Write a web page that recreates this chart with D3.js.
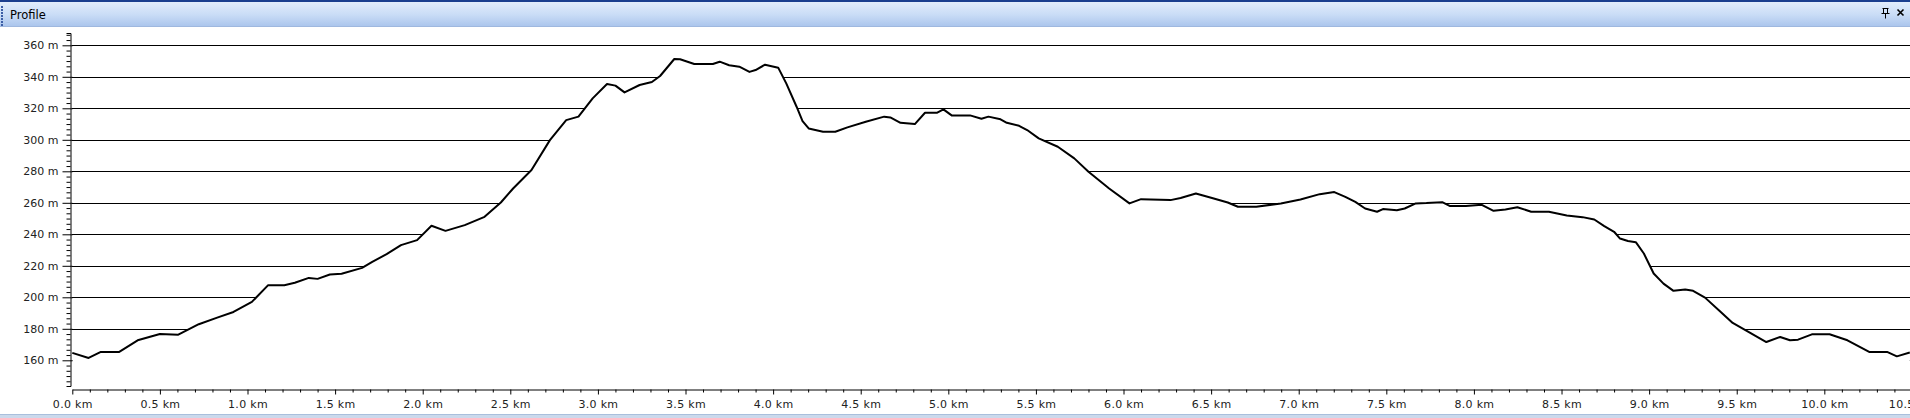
<!DOCTYPE html>
<html>
<head>
<meta charset="utf-8">
<script src="https://cdn.jsdelivr.net/npm/d3@7"></script>
<style>
  html, body { margin: 0; padding: 0; background: #fff; overflow: hidden; }
  svg { display: block; }
</style>
</head>
<body>
<script>
// ---- data ----
const distanceKm = [0, 0.093, 0.163, 0.268, 0.373, 0.50, 0.605, 0.722, 0.827, 0.92, 1.025, 1.118, 1.21, 1.27, 1.35, 1.40, 1.47, 1.537, 1.654, 1.712, 1.794, 1.876, 1.968, 2.05, 2.13, 2.24, 2.353, 2.446, 2.516, 2.621, 2.726, 2.819, 2.889, 2.97, 3.052, 3.10, 3.152, 3.238, 3.308, 3.355, 3.436, 3.469, 3.55, 3.656, 3.695, 3.749, 3.807, 3.865, 3.90, 3.954, 4.029, 4.075, 4.134, 4.168, 4.203, 4.285, 4.355, 4.424, 4.529, 4.634, 4.669, 4.727, 4.809, 4.867, 4.937, 4.972, 5.019, 5.124, 5.189, 5.229, 5.298, 5.334, 5.404, 5.45, 5.516, 5.625, 5.719, 5.80, 5.918, 6.034, 6.10, 6.268, 6.326, 6.413, 6.50, 6.595, 6.653, 6.758, 6.898, 7.01, 7.12, 7.203, 7.266, 7.323, 7.379, 7.447, 7.481, 7.56, 7.605, 7.668, 7.729, 7.819, 7.864, 7.954, 8.045, 8.112, 8.18, 8.248, 8.327, 8.428, 8.53, 8.62, 8.687, 8.744, 8.80, 8.834, 8.879, 8.924, 8.97, 9.026, 9.082, 9.139, 9.206, 9.251, 9.319, 9.398, 9.477, 9.567, 9.669, 9.748, 9.804, 9.85, 9.929, 10.03, 10.132, 10.256, 10.358, 10.414, 10.488];
const elevationM = [164.7, 161.5, 165.3, 165.3, 172.7, 176.7, 176.3, 182.9, 187.1, 190.7, 197.1, 207.7, 207.7, 209.2, 212.3, 211.7, 214.5, 214.9, 218.7, 222.5, 227.4, 233.1, 236.3, 245.4, 242.2, 245.8, 251.1, 260.2, 269.1, 280.8, 299.8, 312.5, 314.7, 326.3, 335.4, 334.4, 330.1, 334.8, 336.7, 340.5, 351.3, 351.1, 348.1, 348.1, 349.6, 347.3, 346.4, 343.1, 344.3, 347.7, 345.8, 335.8, 321.0, 311.9, 307.2, 305.1, 305.1, 307.9, 311.5, 314.7, 314.2, 310.8, 310.0, 317.2, 317.2, 319.3, 315.5, 315.5, 313.4, 314.7, 313.0, 310.8, 308.9, 306.2, 300.9, 295.6, 288.2, 279.7, 269.1, 259.6, 262.3, 261.7, 263.0, 265.9, 263.2, 260.2, 257.5, 257.5, 259.6, 262.1, 265.5, 266.8, 263.8, 260.6, 256.4, 254.3, 256.0, 255.3, 256.4, 259.6, 259.8, 260.4, 257.9, 257.9, 258.7, 254.9, 255.8, 257.2, 254.3, 254.3, 252.0, 250.9, 249.4, 245.2, 241.6, 237.3, 235.7, 235.0, 227.8, 215.1, 208.7, 204.1, 204.9, 204.1, 199.8, 191.8, 183.7, 178.0, 171.6, 174.8, 172.7, 173.1, 176.5, 176.5, 172.7, 165.3, 165.3, 162.5, 164.9];
const yTickValues = [160, 180, 200, 220, 240, 260, 280, 300, 320, 340, 360];
const xTickValues = [0, 0.5, 1, 1.5, 2, 2.5, 3, 3.5, 4, 4.5, 5, 5.5, 6, 6.5, 7, 7.5, 8, 8.5, 9, 9.5, 10, 10.5];
const titleText = "Profile";

// ---- layout ----
const W = 1910, H = 418;
const FONT = "DejaVu Sans, Verdana, sans-serif";
const svg = d3.select("body").append("svg").attr("width", W).attr("height", H);

// title bar
const defs = svg.append("defs");
const grad = defs.append("linearGradient").attr("id", "tb").attr("x1", 0).attr("y1", 0).attr("x2", 0).attr("y2", 1);
grad.append("stop").attr("offset", "0%").attr("stop-color", "#e6f0fd");
grad.append("stop").attr("offset", "55%").attr("stop-color", "#c9dcf6");
grad.append("stop").attr("offset", "100%").attr("stop-color", "#a9c4ec");
svg.append("rect").attr("x", 0).attr("y", 0).attr("width", W).attr("height", 27).attr("fill", "url(#tb)");
svg.append("rect").attr("x", 0).attr("y", 0).attr("width", W).attr("height", 2).attr("fill", "#1b3f8f");
svg.append("rect").attr("x", 0).attr("y", 26).attr("width", W).attr("height", 1).attr("fill", "#9fb8df");
// grip dots
d3.range(6, 26, 3).forEach(yy => {
  svg.append("rect").attr("x", 1).attr("y", yy).attr("width", 2).attr("height", 2).attr("fill", "#3c5ea6");
});
svg.append("text").attr("x", 10).attr("y", 18.5)
  .attr("font-family", FONT).attr("font-size", 11.5)
  .attr("fill", "#000").text(titleText);
// pin and close icons
svg.append("path").attr("d", "M1882.5,8.5h6M1883.5,8.5v5M1887.5,8.5v5M1881.5,13.5h8M1885.5,13.5v5")
  .attr("stroke", "#000").attr("stroke-width", 1).attr("fill", "none");
svg.append("path").attr("d", "M1897.5,9.5l6,6M1903.5,9.5l-6,6")
  .attr("stroke", "#000").attr("stroke-width", 1.6).attr("fill", "none");

// bottom border
svg.append("rect").attr("x", 0).attr("y", 414).attr("width", W).attr("height", 4).attr("fill", "#cbd9ec");
svg.append("rect").attr("x", 0).attr("y", 414).attr("width", W).attr("height", 1).attr("fill", "#a9bfdc");

// scales
const x = d3.scaleLinear().domain([0, 10.489]).range([72.3, 1910]);
const y = d3.scaleLinear().domain([160, 360]).range([360.3, 45.3]);

const data = distanceKm.map((d, i) => ({ km: d, m: elevationM[i] }));

// gridlines
svg.append("g").selectAll("line").data(yTickValues).join("line")
  .attr("x1", 72).attr("x2", W)
  .attr("y1", d => Math.round(y(d)) + 0.5).attr("y2", d => Math.round(y(d)) + 0.5)
  .attr("stroke", "#000").attr("stroke-width", 1);

// white area under the profile (hides gridlines)
const yBase = 388;
svg.append("path").datum(data)
  .attr("d", d3.area().x(d => x(d.km)).y0(yBase).y1(d => y(d.m)))
  .attr("fill", "#fff");

// profile line
svg.append("path").datum(data)
  .attr("d", d3.line().x(d => x(d.km)).y(d => y(d.m)))
  .attr("fill", "none").attr("stroke", "#000").attr("stroke-width", 2)
  .attr("stroke-linejoin", "round");

// y axis
const yAx = d3.scaleLinear().domain([y.invert(386), y.invert(33)]).range([386, 33]);
const yMinor = d3.range(160 - 20, 380, 20 / 6).filter(v => v >= yAx.domain()[0] && v <= yAx.domain()[1] && Math.abs(Math.round(v / 20) * 20 - v) > 0.01);
const gy = svg.append("g").attr("transform", "translate(70.5,0)");
gy.call(d3.axisLeft(yAx).tickValues(yTickValues).tickSize(8).tickSizeOuter(4).tickPadding(4)
  .tickFormat(d => d + " m"));
gy.attr("font-family", FONT).attr("font-size", 11);
gy.selectAll(".tick line").attr("x2", 2).attr("x1", -8);
gy.selectAll("text").attr("fill", "#222");
const gyMinor = svg.append("g").attr("transform", "translate(70.5,0)");
gyMinor.call(d3.axisLeft(yAx).tickValues(yMinor).tickSize(4).tickFormat(""));
gyMinor.select(".domain").remove();

// x axis
const gx = svg.append("g").attr("transform", "translate(0,389.5)");
gx.call(d3.axisBottom(x).tickValues(xTickValues).tickSize(5).tickSizeOuter(0).tickPadding(6)
  .tickFormat(d => d3.format(".1f")(d) + " km"));
gx.attr("font-family", FONT).attr("font-size", 11);
gx.selectAll("text").attr("fill", "#222").attr("letter-spacing", 0.3);
const xMinor = d3.range(0, 105).map(i => i / 10).filter(v => Math.abs(v * 2 - Math.round(v * 2)) > 0.01);
const gxMinor = svg.append("g").attr("transform", "translate(0,389.5)");
gxMinor.call(d3.axisBottom(x).tickValues(xMinor).tickSize(3).tickFormat(""));
gxMinor.select(".domain").remove();
</script>
</body>
</html>
